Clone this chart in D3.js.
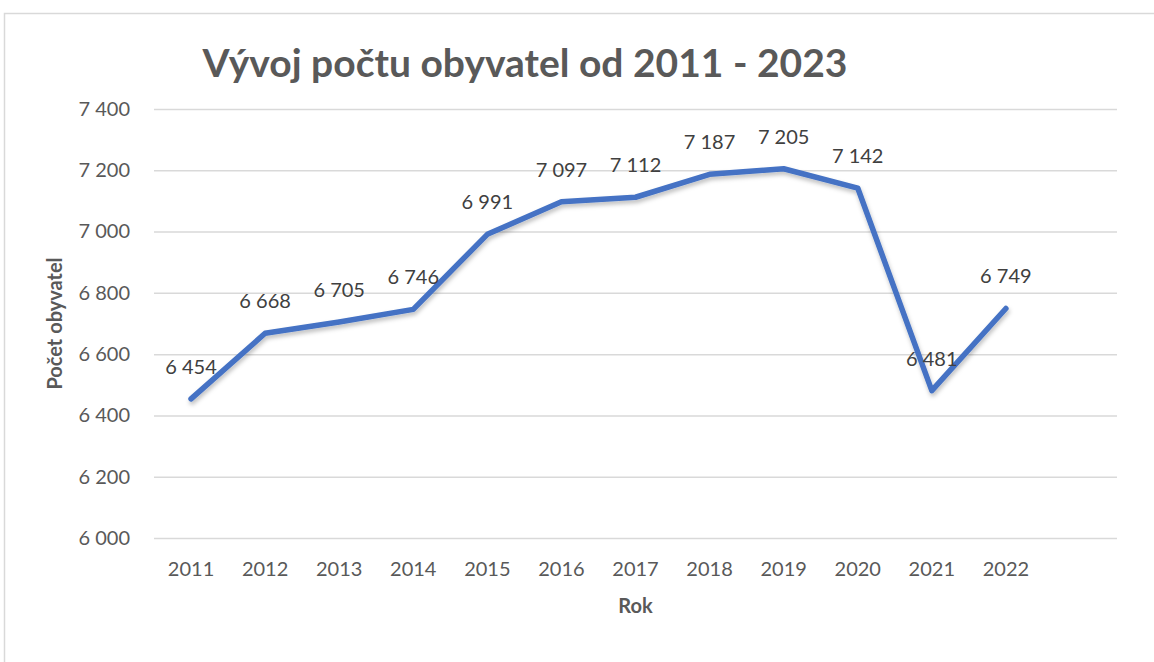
<!DOCTYPE html>
<html>
<head>
<meta charset="utf-8">
<script src="https://cdn.jsdelivr.net/npm/d3@7"></script>
<style>
  body { margin: 0; background: #fff; }
  text { font-family: Lato, "Open Sans", sans-serif; }
</style>
</head>
<body>
<div id="chart"></div>
<script>
// chart data
let years = ["2011", "2012", "2013", "2014", "2015", "2016", "2017", "2018", "2019", "2020", "2021", "2022", ""];
let population = [6454, 6668, 6705, 6746, 6991, 7097, 7112, 7187, 7205, 7142, 6481, 6749];
let yTicks = [6000, 6200, 6400, 6600, 6800, 7000, 7200, 7400];

let width = 1154;
let height = 662;
let margin = {top: 109, right: 37, bottom: 124, left: 154};

let svg = d3.select("#chart")
    .append("svg")
    .attr("width", width)
    .attr("height", height);

// chart frame
svg.append("path")
    .attr("d", "M4.5," + height + "V13.5H" + width)
    .attr("fill", "none")
    .attr("stroke", "#d9d9d9")
    .attr("stroke-width", 1.5);

let x = d3.scaleBand()
    .domain(years)
    .range([margin.left, width - margin.right]);

let y = d3.scaleLinear()
    .domain([6000, 7400])
    .range([height - margin.bottom, margin.top]);

let fmt = function (v) {
    return d3.format(",")(v).replace(",", " ");
};

// gridlines + y labels
let yAxis = svg.append("g")
    .attr("transform", "translate(" + margin.left + ",0)")
    .call(d3.axisLeft(y)
        .tickValues(yTicks)
        .tickSize(-(width - margin.left - margin.right))
        .tickPadding(24)
        .tickFormat(fmt));

yAxis.select(".domain").remove();
yAxis.selectAll(".tick line")
    .attr("stroke", "#d9d9d9")
    .attr("stroke-width", 1.5);
yAxis.selectAll(".tick text")
    .attr("fill", "#595959")
    .style("font-size", "20px");

// x labels
let xAxis = svg.append("g")
    .attr("transform", "translate(0," + (height - margin.bottom) + ")")
    .call(d3.axisBottom(x).tickSize(0).tickPadding(24));

xAxis.select(".domain").remove();
xAxis.selectAll(".tick text")
    .attr("fill", "#595959")
    .style("font-size", "20px");

// soft shadow like the spreadsheet line
let defs = svg.append("defs");
let shadow = defs.append("filter").attr("id", "shadow")
    .attr("x", "-5%").attr("y", "-5%").attr("width", "110%").attr("height", "120%");
shadow.append("feDropShadow")
    .attr("dx", 1).attr("dy", 3).attr("stdDeviation", 2)
    .attr("flood-color", "#000").attr("flood-opacity", 0.25);

let line = d3.line()
    .x((d, i) => x(years[i]) + x.bandwidth() / 2)
    .y((d) => y(d));

svg.append("path")
    .datum(population)
    .attr("d", line)
    .attr("fill", "none")
    .attr("stroke", "#4472c4")
    .attr("stroke-width", 5.5)
    .attr("stroke-linejoin", "round")
    .attr("stroke-linecap", "round")
    .attr("filter", "url(#shadow)");

// data labels
svg.append("g")
    .selectAll("text")
    .data(population)
    .enter()
    .append("text")
    .attr("x", (d, i) => x(years[i]) + x.bandwidth() / 2)
    .attr("y", (d) => y(d) - 25)
    .attr("text-anchor", "middle")
    .attr("fill", "#404040")
    .style("font-size", "20px")
    .text(fmt);

// titles
svg.append("text")
    .text("Vývoj počtu obyvatel od 2011 - 2023")
    .attr("x", 525)
    .attr("y", 77)
    .attr("text-anchor", "middle")
    .attr("fill", "#595959")
    .style("font-size", "39px")
    .style("font-weight", "bold");

svg.append("text")
    .text("Počet obyvatel")
    .attr("transform", "translate(62," + (margin.top + (height - margin.bottom - margin.top) / 2) + ") rotate(-90)")
    .attr("text-anchor", "middle")
    .attr("fill", "#595959")
    .style("font-size", "20px")
    .style("font-weight", "bold");

svg.append("text")
    .text("Rok")
    .attr("x", margin.left + (width - margin.left - margin.right) / 2)
    .attr("y", 613)
    .attr("text-anchor", "middle")
    .attr("fill", "#595959")
    .style("font-size", "20px")
    .style("font-weight", "bold");
</script>
</body>
</html>
